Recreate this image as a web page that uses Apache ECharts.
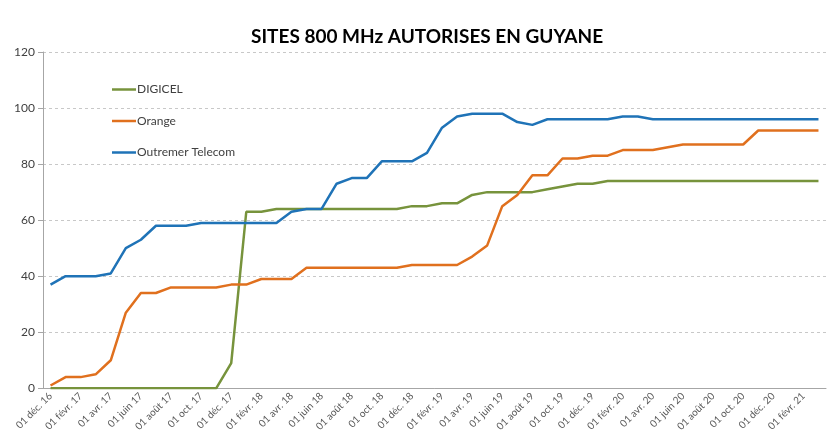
<!DOCTYPE html>
<html>
<head>
<meta charset="utf-8">
<script src="https://cdn.jsdelivr.net/npm/echarts@6/dist/echarts.min.js"></script>
<style>
  html, body { margin: 0; padding: 0; background: #fff; }
  #main { width: 827px; height: 434px; }
</style>
</head>
<body>
<div id="main"></div>
<script>
// mois de déc. 2016 à mars 2021
const months = [
  '01 déc. 16',
  '01 janv. 17', '01 févr. 17', '01 mars 17', '01 avr. 17', '01 mai 17', '01 juin 17',
  '01 juil. 17', '01 août 17', '01 sept. 17', '01 oct. 17', '01 nov. 17', '01 déc. 17',
  '01 janv. 18', '01 févr. 18', '01 mars 18', '01 avr. 18', '01 mai 18', '01 juin 18',
  '01 juil. 18', '01 août 18', '01 sept. 18', '01 oct. 18', '01 nov. 18', '01 déc. 18',
  '01 janv. 19', '01 févr. 19', '01 mars 19', '01 avr. 19', '01 mai 19', '01 juin 19',
  '01 juil. 19', '01 août 19', '01 sept. 19', '01 oct. 19', '01 nov. 19', '01 déc. 19',
  '01 janv. 20', '01 févr. 20', '01 mars 20', '01 avr. 20', '01 mai 20', '01 juin 20',
  '01 juil. 20', '01 août 20', '01 sept. 20', '01 oct. 20', '01 nov. 20', '01 déc. 20',
  '01 janv. 21', '01 févr. 21', '01 mars 21'
];

const digicel = [
  0, 0, 0, 0, 0, 0, 0, 0, 0, 0, 0, 0, 9, 63, 63, 64, 64, 64, 64, 64,
  64, 64, 64, 64, 65, 65, 66, 66, 69, 70, 70, 70, 70, 71, 72, 73, 73, 74, 74, 74,
  74, 74, 74, 74, 74, 74, 74, 74, 74, 74, 74, 74
];

const orange = [
  1, 4, 4, 5, 10, 27, 34, 34, 36, 36, 36, 36, 37, 37, 39, 39, 39, 43, 43, 43,
  43, 43, 43, 43, 44, 44, 44, 44, 47, 51, 65, 69, 76, 76, 82, 82, 83, 83, 85, 85,
  85, 86, 87, 87, 87, 87, 87, 92, 92, 92, 92, 92
];

const outremer = [
  37, 40, 40, 40, 41, 50, 53, 58, 58, 58, 59, 59, 59, 59, 59, 59, 63, 64, 64, 73,
  75, 75, 81, 81, 81, 84, 93, 97, 98, 98, 98, 95, 94, 96, 96, 96, 96, 96, 97, 97,
  96, 96, 96, 96, 96, 96, 96, 96, 96, 96, 96, 96
];

const chart = echarts.init(document.getElementById('main'));

const FONT = 'Lato, "Open Sans", sans-serif';

const option = {
  backgroundColor: '#fff',
  animation: false,
  title: {
    text: 'SITES 800 MHz AUTORISES EN GUYANE',
    left: 246,
    top: 22,
    textStyle: { fontFamily: FONT, fontSize: 19, fontWeight: 'bold', color: '#000' }
  },
  legend: {
    orient: 'vertical',
    left: 107,
    top: 77,
    icon: 'rect',
    itemWidth: 24,
    itemHeight: 2.5,
    itemGap: 16.5,
    textStyle: { fontFamily: FONT, fontSize: 12, color: '#404040', padding: [0, 0, 0, -4], lineHeight: 15 },
    data: ['DIGICEL', 'Orange', 'Outremer Telecom']
  },
  grid: { left: 43, right: 1, top: 52, bottom: 45 },
  xAxis: {
    type: 'category',
    data: months,
    boundaryGap: true,
    axisLine: { lineStyle: { color: '#a6a6a6' } },
    axisTick: { interval: 1, length: 5, lineStyle: { color: '#a6a6a6' } },
    axisLabel: {
      interval: 1,
      rotate: 45,
      margin: 6,
      fontFamily: FONT,
      fontSize: 10,
      color: '#595959'
    }
  },
  yAxis: {
    type: 'value',
    min: 0,
    max: 120,
    interval: 20,
    axisLine: { show: true, lineStyle: { color: '#a6a6a6' } },
    axisTick: { show: true, length: 5, lineStyle: { color: '#a6a6a6' } },
    axisLabel: { fontFamily: FONT, fontSize: 12, color: '#404040', margin: 8 },
    splitLine: { lineStyle: { color: '#c8c8c8', type: [3, 3] } }
  },
  series: [
    {
      name: 'DIGICEL',
      type: 'line',
      data: digicel,
      symbol: 'none',
      color: '#77933C',
      lineStyle: { width: 2.5 }
    },
    {
      name: 'Orange',
      type: 'line',
      data: orange,
      symbol: 'none',
      color: '#E0701E',
      lineStyle: { width: 2.5 }
    },
    {
      name: 'Outremer Telecom',
      type: 'line',
      data: outremer,
      symbol: 'none',
      color: '#1F73B7',
      lineStyle: { width: 2.5 }
    }
  ]
};

chart.setOption(option);
</script>
</body>
</html>
